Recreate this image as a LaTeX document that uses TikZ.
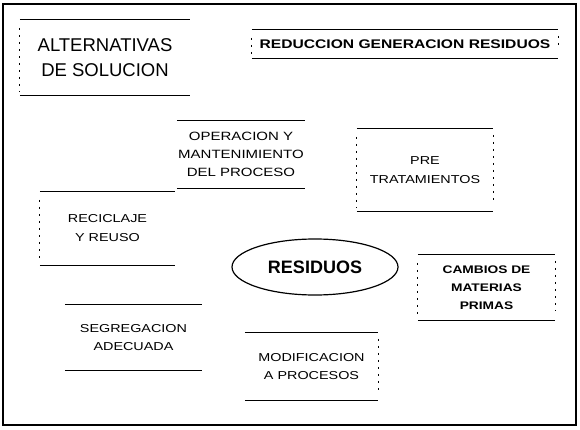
\documentclass[tikz,border=0pt]{standalone}
\usepackage{fontspec}
\setmainfont{Liberation Sans}
\newfontfamily\ancha{Liberation Sans}[FakeStretch=1.25]
\usepackage{tikz}
\usetikzlibrary{shapes.geometric}

\begin{document}
\begin{tikzpicture}[x=1pt,y=-1pt,
	caja/.style 2 args={minimum width=#1,minimum height=#2,inner sep=0pt,align=center,
		font=\ancha\fontsize{11.5}{18}\selectfont},
	linea/.style={line width=1.3pt},
	lado/.style={line width=0.8pt,dash pattern=on 2pt off 5pt},
	marco/.style={line width=2pt}]
			
			\useasboundingbox (0,0) rectangle (580,430);
			\draw[marco] (3,4) rectangle (576,425);
			
			% titulos
			\node[caja={170pt}{75pt},font=\fontsize{18.5}{25}\selectfont] (alt) at (105,57.5) {ALTERNATIVAS\\DE SOLUCION};
			\node[caja={306pt}{28pt},font=\ancha\bfseries\fontsize{12.5}{15}\selectfont] (red) at (405,44) {REDUCCION GENERACION RESIDUOS};
			
			% alternativas alrededor del centro
			\node[caja={128pt}{67pt},font=\ancha\fontsize{12}{18}\selectfont] (oper) at (241,154.5) {OPERACION Y\\MANTENIMIENTO\\DEL PROCESO};
			\node[caja={136pt}{82pt},font=\ancha\fontsize{11.5}{19}\selectfont] (pre) at (425,170) {PRE\\TRATAMIENTOS};
			\node[caja={135pt}{73pt},font=\ancha\fontsize{11.5}{19}\selectfont] (rec) at (107.5,228.5) {RECICLAJE\\Y REUSO};
			\node[caja={137pt}{65pt},font=\ancha\bfseries\fontsize{11}{18}\selectfont] (camb) at (486.5,287.5) {CAMBIOS DE\\MATERIAS\\PRIMAS};
			\node[caja={137pt}{65pt}] (seg) at (133.5,337.5) {SEGREGACION\\ADECUADA};
			\node[caja={133pt}{67pt}] (mod) at (311.5,366.5) {MODIFICACION\\A PROCESOS};
			
			\node[draw,ellipse,line width=1.2pt,minimum width=166pt,minimum height=56pt,inner sep=0pt,
			font=\bfseries\fontsize{18}{20}\selectfont] (res) at (315,267) {RESIDUOS};
			
			\foreach \n in {alt,red,oper,pre,rec,camb,seg,mod}
			\draw[linea] (\n.north west) -- (\n.north east) (\n.south west) -- (\n.south east);
			
			% lados punteados
			\foreach \n in {alt,red,pre,rec,camb}
			\draw[lado] ([yshift=-8pt]\n.north west) -- ([yshift=4pt]\n.south west);
			\foreach \n in {red,pre,camb,mod}
			\draw[lado] ([yshift=-6pt]\n.north east) -- ([yshift=10pt]\n.south east);
		\end{tikzpicture}
\end{document}
